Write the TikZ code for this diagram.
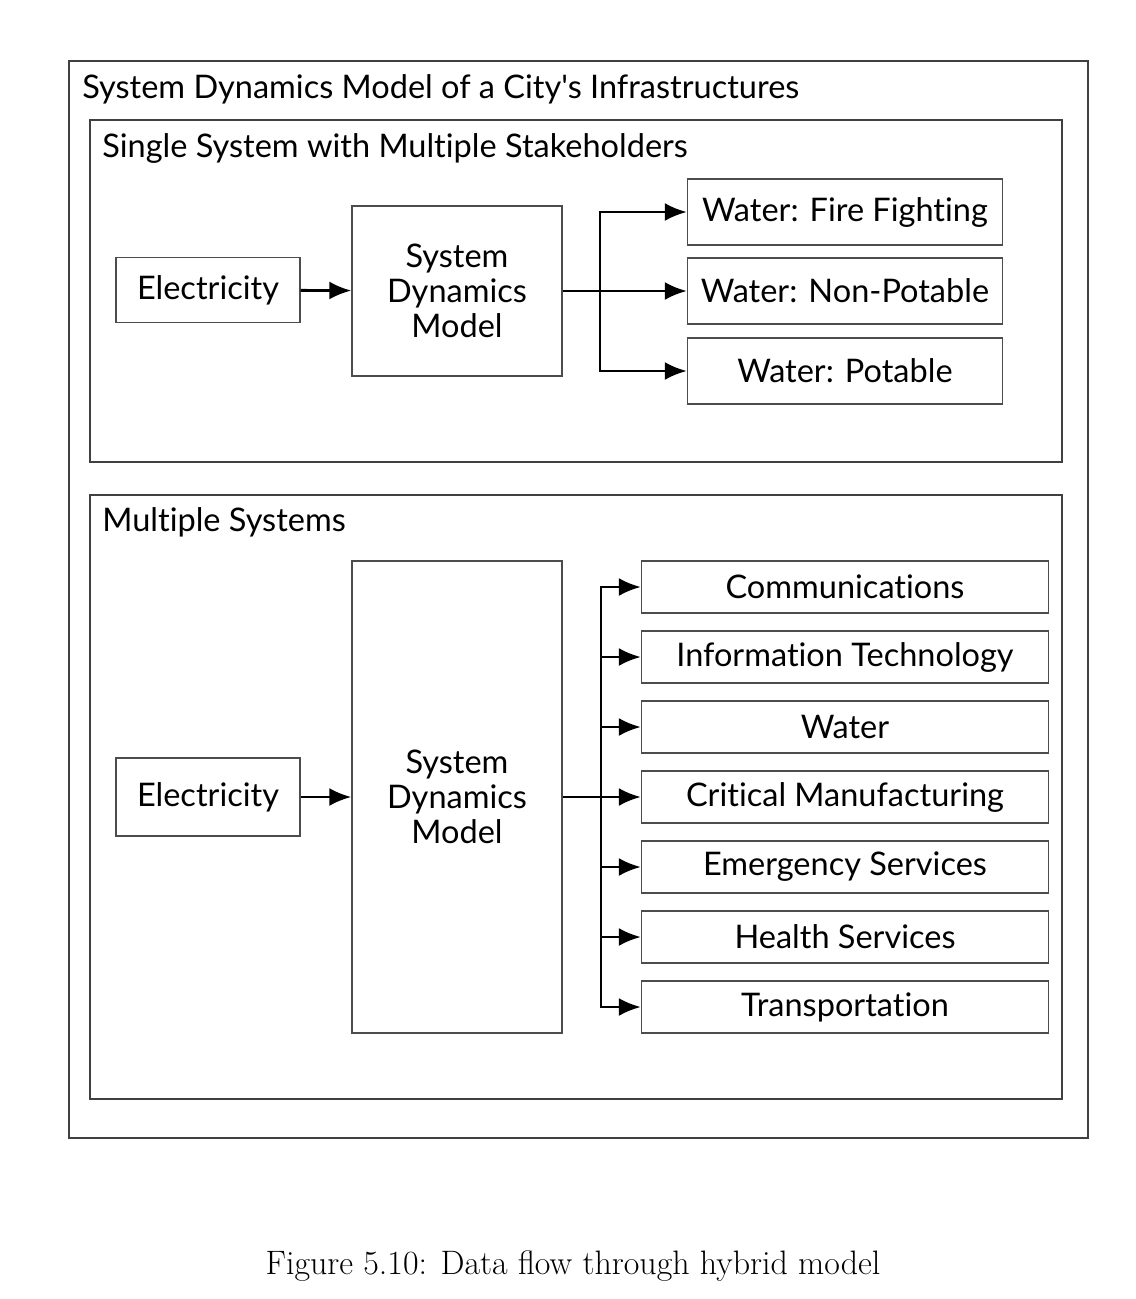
\documentclass[tikz,border=0pt]{standalone}
\usepackage{fontspec}
\newfontfamily\latofont[Ligatures=NoCommon]{Lato}
\usetikzlibrary{arrows.meta}

\begin{document}
\begin{tikzpicture}
	[x=0.02cm, y=-0.02cm,
	box/.style ={draw=black!70, line width=0.8pt, inner sep=0pt, align=center, font=\latofont\fontsize{18.5}{20}\selectfont},
	frame/.style ={draw=black!75, line width=0.8pt},
	head/.style ={anchor=west, inner sep=0pt, font=\latofont\fontsize{18.5}{20}\selectfont},
	flow/.style ={draw=black, line width=1.6pt, -{Latex[length=0.44cm,width=0.36cm]}}]
	\useasboundingbox (0,0) rectangle (1136,1299);
	\draw[frame] (69,61) rectangle (1088,1138);
	\node[head] (title) at (82,89) {System Dynamics Model of a City's Infrastructures};

	\draw[frame] (90,120) rectangle (1062,462);
	\node[head] (single) at (102,148) {Single System with Multiple Stakeholders};
	\node[box, minimum width=3.68cm, minimum height=1.3cm] (e1) at (208,290) {Electricity};
	\node[box, minimum width=4.2cm, minimum height=3.4cm] (s1) at (457,291) {System\\Dynamics\\Model};
	\node[box, minimum width=6.3cm, minimum height=1.32cm] (wff) at (845,212) {Water: Fire Fighting};
	\node[box, minimum width=6.3cm, minimum height=1.32cm] (wnp) at (845,291) {Water: Non-Potable};
	\node[box, minimum width=6.3cm, minimum height=1.32cm] (wp) at (845,371) {Water: Potable};
	\coordinate (j1) at (600,291);
	\draw[flow] (e1) -- (s1);
	\draw[flow] (s1) -- (wnp);
	\draw[flow] (j1) |- (wff);
	\draw[flow] (j1) |- (wp);

	\draw[frame] (90,495) rectangle (1062,1099);
	\node[head] (multi) at (102,522) {Multiple Systems};
	\node[box, minimum width=3.68cm, minimum height=1.56cm] (e2) at (208,797) {Electricity};
	\node[box, minimum width=4.2cm, minimum height=9.44cm] (s2) at (457,797) {System\\Dynamics\\Model};
	\coordinate (j2) at (601,797);
	\foreach \n/\y/\t in {t1/587/Communications, t2/657/Information Technology, t3/727/Water,
		t4/797/Critical Manufacturing, t5/867/Emergency Services, t6/937/Health Services,
		t7/1007/Transportation} {
		\node[box, minimum width=8.14cm, minimum height=1.04cm] (\n) at (845,\y) {\t};
		\draw[flow] (j2) |- (\n);
	}
	\draw[flow] (e2) -- (s2);
	\draw[line width=1.6pt] (s2) -- (j2);

	\node[inner sep=0pt, font=\fontsize{19.3}{22}\selectfont] (caption) at (573,1266) {Figure 5.10: Data flow through hybrid model};
\end{tikzpicture}
\end{document}
